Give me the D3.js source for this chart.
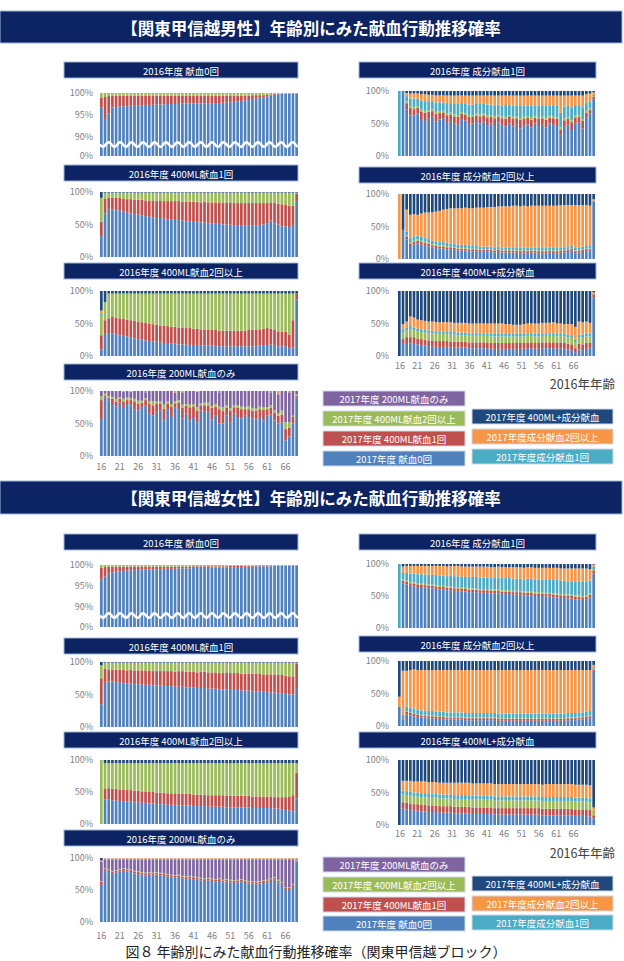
<!DOCTYPE html>
<html>
<head>
<meta charset="utf-8">
<script src="https://cdn.jsdelivr.net/npm/d3@7"></script>
<style>
  body { margin: 0; background: #fff; }
  svg { display: block; font-family: "Noto Sans CJK JP", "Noto Sans", sans-serif; }
</style>
</head>
<body>
<svg id="chart" width="624" height="961"></svg>
<script>
// categories: 2016 age, 16..69
const ages = d3.range(16, 70);
const tickAges = [16, 21, 26, 31, 36, 41, 46, 51, 56, 61, 66];

const seriesKeys = ['blue', 'red', 'green', 'purple', 'teal', 'orange', 'navy'];
const seriesColors = {
  blue: '#4f81bd', red: '#c0504d', green: '#9bbb59', purple: '#8064a2',
  teal: '#4bacc6', orange: '#f79646', navy: '#1f497d'
};
const legendLabels = {
  purple: '2017年度 200ML献血のみ', green: '2017年度 400ML献血2回以上',
  red: '2017年度 400ML献血1回', blue: '2017年度 献血0回',
  navy: '2017年度 400ML+成分献血', orange: '2017年度成分献血2回以上', teal: '2017年度成分献血1回'
};
const panelTitles = ['2016年度 献血0回', '2016年度 成分献血1回', '2016年度 400ML献血1回',
  '2016年度 成分献血2回以上', '2016年度 400ML献血2回以上', '2016年度 400ML+成分献血', '2016年度 200ML献血のみ'];

// ---------- male, % per 2016 age ----------
const mNoneBlue = [96.7,94.1,95.4,96.7,96.8,96.9,97.0,97.0,97.1,97.1, 97.2,97.2,97.3,97.3,97.3,97.4,97.4,97.4,97.5,97.5,
  97.5,97.5,97.6,97.6,97.6,97.6,97.6,97.6,97.6,97.7, 97.7,97.7,97.7,97.8,97.8,97.9,98.0,98.1,98.2,98.3,
  98.4,98.6,98.7,98.9,99.0,99.2,99.4,99.6,99.7,99.8, 99.8,99.8,99.9,99.9];
const mNoneRed = [2.3,5.0,3.9,2.7,2.6,2.5,2.4,2.4,2.3,2.3, 2.2,2.2,2.1,2.1,2.1,2.0,2.0,2.0,1.9,1.9,
  1.9,1.9,1.8,1.8,1.8,1.8,1.8,1.8,1.8,1.7, 1.7,1.7,1.7,1.6,1.6,1.5,1.4,1.3,1.2,1.1,
  1.0,0.9,0.8,0.6,0.5,0.4,0.3,0.2,0.1,0.1, 0.1,0.1,0.05,0.05];
const mNoneGreen = [1.0,0.9,0.7,0.6,0.6,0.6,0.6,0.6,0.6,0.6, 0.6,0.6,0.6,0.6,0.6,0.6,0.6,0.6,0.6,0.6,
  0.6,0.6,0.6,0.6,0.6,0.6,0.6,0.6,0.6,0.6, 0.6,0.6,0.6,0.6,0.6,0.6,0.6,0.6,0.6,0.6,
  0.6,0.5,0.5,0.5,0.5,0.4,0.3,0.2,0.2,0.1, 0.1,0.1,0.05,0.05];

const mComp1Blue = [0,100,72,64,65,68,58,55,60,62, 55,58,60,52,55,50,48,58,55,48, 50,52,50,54,48,50,46,52,48,46,
  50,45,48,42,46,48,44,50,46,48, 44,50,48,46,32,45,48,40,50,52, 42,60,65,88];
const mComp1Red = [0,0,10,12,10,9,12,13,10,9, 12,10,9,12,10,11,12,8,9,12, 10,10,11,9,12,10,12,9,10,12,
  10,12,10,13,11,10,12,9,11,10, 12,9,10,11,8,10,9,12,10,9, 12,8,6,3];
const mComp1Green = [0,0,3,3,3,3,3,3,3,3, 3,3,3,3,3,3,3,3,3,3, 3,3,3,3,3,3,3,3,3,3,
  3,3,3,3,3,3,3,3,3,3, 3,3,3,3,3,3,3,3,3,3, 3,3,3,1];
const mComp1Teal = [100,0,8,12,14,12,14,15,14,13, 15,14,13,16,15,16,17,14,15,16, 16,15,16,15,17,16,17,16,17,18,
  16,17,17,18,17,16,18,16,17,16, 18,16,17,17,22,18,17,20,16,15, 18,12,10,2];
const mComp1Orange = [0,0,5,8,8,8,10,11,10,10, 11,11,11,12,12,13,13,12,12,14, 14,13,13,13,14,14,15,14,15,15,
  14,15,15,16,15,15,16,15,16,16, 16,15,15,16,26,17,16,18,15,15, 18,14,12,4];
const mComp1Navy = [0,0,3,4,4,4,5,5,6,6, 7,7,7,7,7,7,7,7,7,7, 7,7,7,7,7,7,7,7,7,7,
  7,7,7,7,7,7,7,7,7,7, 7,7,7,7,7,7,7,7,7,7, 7,5,4,2];

const m400x1Blue = [32,67,74,73,72,72,70,68,67,66, 65,64,63,62,61,60,60,59,58,58, 57,57,56,55,55,54,54,53,53,52,
  52,51,51,50,50,50,49,49,49,49, 49,49,49,49,50,52,56,52,50,47, 47,46,49,86];
const m400x1Red = [22,23,17,18,19,19,20,21,22,22, 23,24,24,25,26,26,27,27,28,28, 29,29,29,30,30,31,31,31,32,32,
  32,33,33,33,34,34,34,34,34,34, 34,34,34,34,33,31,28,31,32,34, 34,33,30,11];
const m400x1Green = [37,9,8,8,8,8,9,10,10,11, 11,11,12,12,12,13,12,13,13,13, 13,13,14,14,14,14,14,15,14,15,
  15,15,15,16,15,15,16,16,16,16, 16,16,16,16,16,16,15,16,17,18, 18,20,20,2];
const m400x1Navy = [9,1,1,1,1,1,1,1,1,1, 1,1,1,1,1,1,1,1,1,1, 1,1,1,1,1,1,1,1,1,1,
  1,1,1,1,1,1,1,1,1,1, 1,1,1,1,1,1,1,1,1,1, 1,1,1,1];

const mComp2Blue = [0,45,30,20,22,24,22,20,19,18, 17,16,16,15,15,14,13,13,13,12, 12,12,11,11,11,11,10,11,10,10,
  10,10,10,9,10,9,10,10,9,9, 9,10,9,9,10,10,11,13,9,10, 11,12,12,88];
const mComp2Red = [0,0,4,4,4,4,4,4,4,3, 3,3,3,3,3,3,3,3,3,3, 3,3,3,3,3,3,3,3,3,3,
  3,3,3,3,3,3,3,3,3,3, 3,3,3,3,3,3,3,3,3,3, 3,3,3,1];
const mComp2Green = [0,0,2,2,2,2,2,2,2,2, 2,2,2,2,1,1,1,1,1,1, 1,1,1,1,1,1,1,1,1,1,
  1,1,1,1,1,1,1,1,1,1, 1,1,1,1,1,1,1,1,1,1, 1,1,1,0];
const mComp2Teal = [0,0,6,7,7,6,6,6,5,5, 5,5,5,5,5,5,5,5,5,4, 4,4,4,4,4,4,4,4,4,4,
  4,4,4,4,4,4,4,4,4,4, 4,4,4,4,4,4,4,4,4,4, 4,4,4,1];
const mComp2Orange = [100,0,34,35,34,32,36,38,40,44, 46,48,50,52,54,55,56,56,57,58, 58,59,60,60,61,61,62,62,63,63,
  63,64,64,64,64,64,64,64,65,65, 65,64,65,65,65,65,64,62,66,65, 64,63,62,2];
const mComp2Navy = [0,55,24,32,31,32,30,28,28,28, 27,26,24,23,22,22,22,22,21,22, 22,21,21,21,20,20,20,19,19,19,
  19,18,18,19,18,19,18,18,18,18, 18,18,18,18,17,17,17,17,17,17, 17,17,18,8];

const m400x2Blue = [10,34,34,35,33,32,31,30,29,27, 26,25,24,23,22,22,21,20,20,19, 19,18,18,18,17,17,17,16,16,16,
  16,15,15,15,15,15,15,15,15,15, 15,15,15,16,17,17,18,17,15,15, 15,12,13,87];
const m400x2Red = [22,21,24,25,26,26,26,26,26,27, 27,27,27,27,27,26,26,27,26,26, 26,26,26,25,26,25,25,25,25,24,
  24,25,24,24,24,24,24,24,24,24, 25,25,25,25,25,26,24,23,23,22, 22,21,42,9];
const m400x2Green = [30,28,38,36,37,38,39,40,41,42, 43,44,45,46,47,48,49,49,50,51, 51,52,52,53,53,54,54,55,55,56,
  56,56,57,57,57,57,57,57,57,57, 56,56,56,55,54,53,54,56,58,59, 59,63,41,0];
const m400x2Teal = [3,0,0,0,0,0,0,0,0,0, 0,0,0,0,0,0,0,0,0,0, 0,0,0,0,0,0,0,0,0,0,
  0,0,0,0,0,0,0,0,0,0, 0,0,0,0,0,0,0,0,0,0, 0,0,0,0];
const m400x2Orange = [5,0,0,0,0,0,0,0,0,0, 0,0,0,0,0,0,0,0,0,0, 0,0,0,0,0,0,0,0,0,0,
  0,0,0,0,0,0,0,0,0,0, 0,0,0,0,0,0,0,0,0,0, 0,0,0,0];
const m400x2Navy = [30,17,4,4,4,4,4,4,4,4, 4,4,4,4,4,4,4,4,4,4, 4,4,4,4,4,4,4,4,4,4,
  4,4,4,4,4,4,4,4,4,4, 4,4,4,4,4,4,4,4,4,4, 4,4,4,4];

const m400CompBlue = [0,20,20,19,20,18,17,16,15,15, 14,14,14,14,13,13,13,13,13,12, 12,12,12,12,12,11,11,11,11,11,
  11,11,11,11,11,12,12,11,11,12, 12,12,12,11,12,11,10,9,5,10, 9,11,12,90];
const m400CompRed = [0,6,9,10,9,9,9,9,9,9, 9,9,9,9,9,9,9,9,9,9, 9,9,9,9,9,9,9,9,9,9,
  9,9,9,9,9,9,9,9,9,9, 9,9,9,9,9,9,9,9,7,9, 9,9,8,5];
const m400CompGreen = [0,10,10,12,11,11,11,11,11,11, 11,11,11,11,11,11,10,10,10,10, 10,10,10,10,10,10,10,10,10,10,
  10,10,10,10,10,10,10,10,10,10, 10,10,10,10,10,10,10,10,9,10, 11,10,10,1];
const m400CompTeal = [0,5,4,5,4,4,4,4,4,4, 4,4,4,4,4,4,4,4,4,4, 4,4,4,4,4,4,4,4,4,4,
  4,4,4,4,4,4,4,4,4,4, 4,4,4,4,4,4,4,4,4,4, 4,4,4,1];
const m400CompOrange = [0,8,10,15,15,14,14,14,14,14, 14,14,14,14,15,14,15,15,15,15, 15,15,15,15,15,16,16,16,16,15,
  15,14,14,14,15,15,15,16,16,16, 16,16,17,16,15,15,16,17,20,20, 19,19,17,1];
const m400CompNavy = [100,51,47,39,41,44,45,46,47,47, 48,48,48,48,48,49,49,49,49,50, 50,50,50,50,50,50,50,50,50,51,
  51,52,52,52,51,50,50,50,50,49, 49,49,48,50,50,51,51,51,55,47, 48,47,49,2];

const m200Blue = [57,90,85,80,76,82,74,80,78,72, 70,74,78,65,62,68,70,55,72,60, 75,72,58,65,55,60,52,70,68,68,
  56,62,50,50,62,52,65,60,58,62, 60,58,56,60,55,62,64,55,50,52, 24,30,50,90];
const m200Red = [29,3,4,8,8,6,10,6,8,12, 10,8,8,15,16,12,10,18,8,16, 6,10,16,12,20,16,18,8,10,10,
  18,14,22,20,12,18,10,14,14,10, 12,12,14,12,16,10,10,12,12,12, 18,14,10,3];
const m200Green = [6,3,3,3,4,2,4,4,3,4, 5,3,3,4,6,4,4,6,4,4, 3,4,5,3,4,4,5,3,4,4,
  3,4,4,5,4,4,3,4,4,3, 5,4,3,4,4,3,4,3,4,6, 10,8,2,2];
const m200Purple = [8,4,8,9,12,10,11,10,10,12, 15,15,9,16,16,16,16,21,16,20, 13,14,19,20,21,20,24,19,18,18,
  23,20,22,25,22,26,22,22,24,25, 23,26,27,24,25,25,20,30,29,30, 48,46,38,5];
const m200Teal = [0,0,0,0,0,0,1,0,0,0, 0,0,2,0,0,0,0,0,0,0, 0,0,0,0,0,0,0,0,0,0,
  0,0,2,0,0,0,0,0,0,0, 0,0,0,0,0,0,2,0,0,0, 0,0,0,0];
const m200Orange = [0,0,0,0,0,0,0,0,1,0, 0,0,0,0,0,0,0,0,0,0, 3,0,2,0,0,0,1,0,0,0,
  0,0,0,0,0,0,0,0,0,0, 0,0,0,0,0,0,0,0,5,0, 0,2,0,0];

// ---------- female, % per 2016 age ----------
const fNoneBlue = [96.5,97.3,97.9,98.2,98.4,98.5,98.6,98.7,98.7,98.8, 98.8,98.9,98.9,98.9,99.0,99.0,99.0,99.1,99.1,99.1,
  99.1,99.2,99.2,99.2,99.2,99.3,99.3,99.3,99.3,99.3, 99.4,99.4,99.4,99.4,99.4,99.5,99.5,99.5,99.5,99.6,
  99.6,99.6,99.6,99.7,99.7,99.7,99.7,99.8,99.8,99.8, 99.8,99.8,99.9,99.9];
const fNoneRed = [2.8,2.2,1.7,1.4,1.2,1.1,1.0,0.9,0.9,0.8, 0.8,0.7,0.7,0.7,0.6,0.6,0.6,0.5,0.5,0.5,
  0.5,0.4,0.4,0.4,0.4,0.4,0.4,0.4,0.4,0.4, 0.3,0.3,0.3,0.3,0.3,0.3,0.3,0.3,0.3,0.2,
  0.2,0.2,0.2,0.2,0.2,0.2,0.2,0.1,0.1,0.1, 0.1,0.1,0.05,0.05];
const fNoneGreen = [0.7,0.5,0.4,0.4,0.4,0.4,0.4,0.4,0.4,0.4, 0.4,0.4,0.4,0.4,0.4,0.4,0.4,0.4,0.4,0.4,
  0.4,0.4,0.4,0.4,0.4,0.3,0.3,0.3,0.3,0.3, 0.3,0.3,0.3,0.3,0.3,0.2,0.2,0.2,0.2,0.2,
  0.2,0.2,0.2,0.1,0.1,0.1,0.1,0.1,0.1,0.1, 0.1,0.1,0.05,0.05];

const fComp1Blue = [0,70,68,66,65,64,64,63,62,62, 61,60,60,59,59,58,58,57,57,56, 56,56,55,55,55,54,54,54,53,53,
  53,52,52,52,51,51,51,50,50,50, 49,49,48,48,47,47,46,46,45,45, 44,45,48,85];
const fComp1Red = [0,4,4,4,4,4,4,4,4,4, 4,4,4,4,4,4,4,4,4,4, 4,4,4,4,4,4,4,4,4,4,
  4,4,4,4,4,4,4,4,4,4, 4,4,4,4,4,4,4,4,4,4, 4,4,4,4];
const fComp1Green = [0,2,2,2,2,2,2,2,2,2, 2,2,2,2,2,2,2,2,2,2, 2,2,2,2,2,2,2,2,2,2,
  2,2,2,2,2,2,2,2,2,2, 2,2,2,2,2,2,2,2,2,2, 2,2,2,2];
const fComp1Teal = [100,10,12,13,14,14,14,15,15,15, 16,16,16,16,17,17,17,17,17,18, 18,18,18,18,18,18,18,19,19,19,
  19,19,19,19,19,20,20,20,20,20, 20,20,21,21,21,21,21,21,22,22, 22,22,20,5];
const fComp1Orange = [0,10,11,12,12,13,13,13,14,14, 14,15,15,15,15,16,16,16,16,16, 16,16,17,17,17,17,17,17,17,17,
  17,18,18,18,18,18,18,18,18,18, 19,19,19,19,19,19,20,20,20,20, 21,20,18,3];
const fComp1Navy = [0,4,3,3,3,3,3,3,3,3, 3,3,3,4,3,3,3,4,4,4, 4,4,4,4,4,5,5,4,5,5,
  5,5,5,5,6,5,5,6,6,6, 6,6,6,6,7,7,7,7,7,7, 7,7,8,1];

const f400x1Blue = [35,68,70,70,69,68,68,67,67,66, 66,65,65,65,64,64,64,63,63,63, 62,62,62,61,61,61,60,60,60,59,
  59,59,58,58,58,57,57,57,56,56, 56,55,55,55,54,54,53,53,52,52, 51,50,50,60];
const f400x1Red = [40,22,18,18,19,20,20,20,21,21, 21,22,22,22,22,22,23,23,23,23, 23,24,24,24,24,24,24,25,25,25,
  25,25,25,25,26,26,26,26,26,26, 26,27,27,27,27,27,28,28,28,28, 28,28,28,38];
const f400x1Green = [20,9,11,11,11,11,11,12,11,12, 12,12,12,12,13,13,12,13,13,13, 14,13,13,14,14,14,15,14,14,15,
  15,15,16,16,15,16,16,16,17,17, 17,17,17,17,18,18,18,18,19,19, 20,21,21,1];
const f400x1Navy = [5,1,1,1,1,1,1,1,1,1, 1,1,1,1,1,1,1,1,1,1, 1,1,1,1,1,1,1,1,1,1,
  1,1,1,1,1,1,1,1,1,1, 1,1,1,1,1,1,1,1,1,1, 1,1,1,1];

const fComp2Blue = [30,10,18,16,15,14,13,13,12,12, 11,11,11,10,10,10,10,10,9,9, 9,9,9,9,9,9,9,8,8,8,
  8,8,8,8,8,8,8,8,8,8, 8,8,8,8,8,8,9,9,9,10, 10,11,12,85];
const fComp2Red = [0,2,4,4,4,3,3,3,3,3, 3,3,3,3,3,3,3,3,3,3, 3,3,3,3,3,3,3,3,3,3,
  3,3,3,3,3,3,3,3,3,3, 3,3,3,3,3,3,3,3,3,3, 3,3,3,2];
const fComp2Green = [0,0,1,1,1,1,1,1,1,1, 1,1,1,1,1,1,1,1,1,1, 1,1,1,1,1,1,1,1,1,1,
  1,1,1,1,1,1,1,1,1,1, 1,1,1,1,1,1,1,1,1,1, 1,1,1,0];
const fComp2Teal = [0,5,7,7,7,7,7,7,7,7, 7,7,7,7,7,7,7,7,7,7, 7,7,7,7,7,7,7,7,7,7,
  7,7,7,7,7,7,7,7,7,7, 7,7,7,7,7,7,7,7,7,7, 7,7,7,2];
const fComp2Orange = [15,68,55,58,60,61,62,62,63,63, 64,64,64,65,65,65,65,65,66,66, 66,66,66,66,66,66,66,67,67,67,
  67,67,67,67,67,67,67,67,67,67, 67,67,67,67,67,67,66,66,66,65, 65,64,63,5];
const fComp2Navy = [55,15,15,14,13,14,14,14,14,14, 14,14,14,14,14,14,14,14,14,14, 14,14,14,14,14,14,14,14,14,14,
  14,14,14,14,14,14,14,14,14,14, 14,14,14,14,14,14,14,14,14,14, 14,14,14,6];

const f400x2Blue = [0,38,38,37,37,36,36,35,35,34, 34,33,33,32,32,31,31,31,30,30, 30,29,29,29,29,28,28,28,28,27,
  27,27,27,27,26,26,26,26,26,26, 26,25,25,25,25,25,25,24,24,23, 22,21,20,40];
const f400x2Red = [0,17,18,18,18,18,18,18,18,18, 18,18,18,18,18,18,18,18,18,18, 18,18,18,18,18,18,18,18,18,18,
  18,18,18,18,18,18,18,18,18,18, 18,18,18,18,18,18,18,18,18,19, 20,22,25,40];
const f400x2Green = [100,40,39,40,40,41,41,42,42,43, 43,44,44,45,45,46,46,46,47,47, 47,48,48,48,48,49,49,49,49,50,
  50,50,50,50,51,51,51,51,51,51, 51,52,52,52,52,52,52,53,53,53, 53,52,50,15];
const f400x2Navy = [0,5,5,5,5,5,5,5,5,5, 5,5,5,5,5,5,5,5,5,5, 5,5,5,5,5,5,5,5,5,5,
  5,5,5,5,5,5,5,5,5,5, 5,5,5,5,5,5,5,5,5,5, 5,5,5,5];

const f400CompBlue = [0,25,24,23,22,22,21,21,20,20, 20,19,19,19,19,18,18,18,18,18, 17,17,17,17,17,17,16,16,16,16,
  16,16,16,16,16,16,16,16,16,15, 15,15,15,15,15,15,15,15,14,14, 14,14,13,10];
const f400CompRed = [0,10,10,10,10,10,10,10,10,10, 10,10,10,10,10,10,10,10,10,10, 10,10,10,10,10,10,10,10,10,10,
  10,10,10,10,10,10,10,10,10,10, 10,10,10,10,10,10,10,10,10,10, 10,10,10,5];
const f400CompGreen = [0,12,12,12,12,12,12,12,12,12, 12,12,12,12,12,12,12,12,12,12, 12,12,12,12,12,12,12,12,12,12,
  12,12,12,12,12,12,12,12,12,12, 12,12,12,12,12,12,12,12,12,12, 12,12,12,5];
const f400CompTeal = [0,6,6,6,6,6,6,6,6,6, 6,6,6,6,6,6,6,6,6,6, 6,6,6,6,6,6,6,6,6,6,
  6,6,6,6,6,6,6,6,6,6, 6,6,6,6,6,6,6,6,6,6, 6,6,6,2];
const f400CompOrange = [0,15,16,17,17,17,18,18,18,18, 18,18,18,18,18,19,19,19,19,19, 19,19,19,19,19,19,19,19,19,19,
  19,19,19,19,19,19,19,19,19,19, 20,20,20,20,20,20,20,20,20,20, 20,20,20,5];
const f400CompNavy = [100,32,32,32,33,33,33,33,34,34, 34,35,35,35,35,35,35,35,35,35, 36,36,36,36,36,36,37,37,37,37,
  37,37,37,37,37,37,37,37,37,38, 37,37,37,37,37,37,37,37,38,38, 38,38,39,73];

const f200Blue = [58,80,78,76,77,79,80,79,78,76, 75,74,73,74,73,74,73,72,71,70, 69,70,68,67,68,67,66,65,64,65,
  64,63,64,62,63,62,61,62,63,61, 60,60,59,60,61,62,64,66,62,58, 50,50,55,94];
const f200Red = [5,3,3,3,3,3,3,3,3,3, 3,3,3,3,3,3,3,3,3,3, 3,3,3,3,3,3,3,3,3,3,
  3,3,3,3,3,3,3,3,3,3, 3,3,3,3,3,3,3,3,3,3, 3,3,3,1];
const f200Green = [1,1,1,1,1,1,1,1,1,1, 1,1,1,1,1,1,1,1,1,1, 1,1,1,1,1,1,1,1,1,1,
  1,1,1,1,1,1,1,1,1,1, 1,1,1,1,1,1,1,1,1,1, 1,1,1,1];
const f200Purple = [30,14,16,18,17,15,14,15,16,18, 19,20,21,20,21,20,21,22,23,24, 25,24,26,27,26,27,28,29,30,29,
  30,31,30,32,31,32,33,32,31,33, 34,34,35,34,33,32,30,28,32,36, 44,44,39,2];
const f200Teal = [1,1,1,1,1,1,1,1,1,1, 1,1,1,1,1,1,1,1,1,1, 1,1,1,1,1,1,1,1,1,1,
  1,1,1,1,1,1,1,1,1,1, 1,1,1,1,1,1,1,1,1,1, 1,1,1,1];
const f200Orange = [1,1,1,1,1,1,1,1,1,1, 1,1,1,1,1,1,1,1,1,1, 1,1,1,1,1,1,1,1,1,1,
  1,1,1,1,1,1,1,1,1,1, 1,1,1,1,1,1,1,1,1,1, 1,1,1,1];
const f200Navy = [4,0,0,0,0,0,0,0,0,0, 0,0,0,0,0,0,0,0,0,0, 0,0,0,0,0,0,0,0,0,0,
  0,0,0,0,0,0,0,0,0,0, 0,0,0,0,0,0,0,0,0,0, 0,0,0,0];

// ---------- drawing ----------
const svg = d3.select('#chart');
const FONT = '"Noto Sans CJK JP", "Noto Sans", sans-serif';
const BANNER = '#0c2463';
const cols = {
  L: {bx: 64, bw: 234, x0: 100, x1: 298, labelX: 93},
  R: {bx: 359, bw: 237, x0: 398, x1: 595, labelX: 389}
};

function banner(x, y, w, h, text, size, bold) {
  svg.append('rect').attr('x', x).attr('y', y).attr('width', w).attr('height', h)
    .attr('fill', BANNER).attr('stroke', '#9fb4da').attr('stroke-width', 1);
  svg.append('text').attr('x', x + w / 2).attr('y', y + h / 2 + 0.5)
    .attr('text-anchor', 'middle').attr('dominant-baseline', 'central')
    .attr('fill', '#fff').attr('font-size', size).attr('font-weight', bold ? 700 : 400)
    .text(text);
}

function drawPanel(p) {
  const c = cols[p.col];
  const x = d3.scaleBand().domain(ages).range([c.x0, c.x1]).paddingInner(0.27).paddingOuter(0);
  const y = p.y90
    ? d3.scaleLinear().domain([0, 0.9, 1]).range([p.bottom, p.y90, p.top])
    : d3.scaleLinear().domain([0, 1]).range([p.bottom, p.top]);

  const rows = ages.map((age, i) => {
    const r = {age};
    seriesKeys.forEach(k => { r[k] = p.data[k] ? p.data[k][i] : 0; });
    return r;
  });
  const stacked = d3.stack().keys(seriesKeys).offset(d3.stackOffsetExpand)(rows);

  const g = svg.append('g');
  g.selectAll('g.series').data(stacked).join('g')
    .attr('class', 'series').attr('fill', d => seriesColors[d.key])
    .selectAll('rect').data(d => d).join('rect')
    .attr('x', d => x(d.data.age))
    .attr('width', x.bandwidth())
    .attr('y', d => y(d[1]))
    .attr('height', d => Math.max(0, y(d[0]) - y(d[1])));

  // broken axis: white wavy cut across the bars
  if (p.y90) {
    const pts = d3.range(c.x0, c.x1 + 0.5, 0.5)
      .map(v => [v, p.waveY + 2.2 * Math.sin((v - c.x0) / 11.5 * 2 * Math.PI)]);
    g.append('path').attr('d', d3.line()(pts))
      .attr('fill', 'none').attr('stroke', '#fff').attr('stroke-width', 2.6);
  }

  const yAxis = d3.axisLeft(y)
    .tickValues(p.y90 ? [0, 0.9, 0.95, 1] : [0, 0.5, 1])
    .tickFormat(d3.format('.0%')).tickSize(0).tickPadding(c.x0 - c.labelX);
  g.append('g').attr('transform', `translate(${c.x0},0)`).call(yAxis)
    .call(a => a.select('.domain').remove())
    .attr('font-family', FONT).attr('font-size', 9)
    .selectAll('text').attr('fill', '#7f7f7f');

  if (p.tickY) {
    const xt = p.tickRange
      ? d3.scaleLinear().domain([tickAges[0], tickAges[tickAges.length - 1]]).range(p.tickRange)
      : x;
    const xAxis = d3.axisBottom(xt).tickValues(tickAges).tickFormat(d3.format('d'))
      .tickSize(0).tickPadding(p.tickY - p.bottom - 4);
    const ag = g.append('g')
      .attr('transform', `translate(0,${p.bottom})`)
      .call(xAxis)
      .call(a => a.select('.domain').remove())
      .attr('font-family', FONT).attr('font-size', 9);
    ag.selectAll('text').attr('fill', '#7f7f7f');
  }
  return p;
}

function drawSection(s) {
  banner(0, s.titleY, 622, s.titleH, s.title, 16.5, true);
  s.panels.forEach(drawPanel);
  s.panels.forEach((p, i) => banner(cols[p.col].bx, p.bannerY, cols[p.col].bw, 16, panelTitles[i], 9.5, false));

  svg.append('text').attr('x', 615).attr('y', s.ageY).attr('text-anchor', 'end')
    .attr('dominant-baseline', 'central').attr('font-size', 12.5).attr('fill', '#404040')
    .text('2016年年齢');

  const legendLeft = ['purple', 'green', 'red', 'blue'];
  const legendRight = ['navy', 'orange', 'teal'];
  legendLeft.forEach((k, i) => legendBox(323, 142, s.legendLY[i], k));
  legendRight.forEach((k, i) => legendBox(472, 141, s.legendRY[i], k));
}

function legendBox(x, w, y, key) {
  svg.append('rect').attr('x', x).attr('y', y).attr('width', w).attr('height', 15)
    .attr('fill', seriesColors[key]).attr('stroke', '#d0d8e8').attr('stroke-width', 1);
  svg.append('text').attr('x', x + w / 2).attr('y', y + 8)
    .attr('text-anchor', 'middle').attr('dominant-baseline', 'central')
    .attr('fill', '#fff').attr('font-size', 9.5).text(legendLabels[key]);
}

const male = {
  title: '【関東甲信越男性】年齢別にみた献血行動推移確率', titleY: 11, titleH: 32, ageY: 383,
  legendLY: [391, 411, 431, 451], legendRY: [409, 429, 449],
  panels: [
    {col: 'L', bannerY: 62, top: 93, y90: 137, bottom: 156, waveY: 144.5,
      data: {blue: mNoneBlue, red: mNoneRed, green: mNoneGreen}},
    {col: 'R', bannerY: 62, top: 91, bottom: 156,
      data: {blue: mComp1Blue, red: mComp1Red, green: mComp1Green, teal: mComp1Teal, orange: mComp1Orange, navy: mComp1Navy}},
    {col: 'L', bannerY: 165, top: 192, bottom: 257,
      data: {blue: m400x1Blue, red: m400x1Red, green: m400x1Green, navy: m400x1Navy}},
    {col: 'R', bannerY: 167, top: 194, bottom: 259,
      data: {blue: mComp2Blue, red: mComp2Red, green: mComp2Green, teal: mComp2Teal, orange: mComp2Orange, navy: mComp2Navy}},
    {col: 'L', bannerY: 263, top: 291, bottom: 356,
      data: {blue: m400x2Blue, red: m400x2Red, green: m400x2Green, teal: m400x2Teal, orange: m400x2Orange, navy: m400x2Navy}},
    {col: 'R', bannerY: 263, top: 291, bottom: 356, tickY: 367, tickRange: [399.5, 573],
      data: {blue: m400CompBlue, red: m400CompRed, green: m400CompGreen, teal: m400CompTeal, orange: m400CompOrange, navy: m400CompNavy}},
    {col: 'L', bannerY: 364, top: 391, bottom: 456, tickY: 468,
      data: {blue: m200Blue, red: m200Red, green: m200Green, purple: m200Purple, teal: m200Teal, orange: m200Orange}}
  ]
};

const female = {
  title: '【関東甲信越女性】年齢別にみた献血行動推移確率', titleY: 481, titleH: 33, ageY: 852,
  legendLY: [857, 877, 897, 916], legendRY: [876, 896, 915],
  panels: [
    {col: 'L', bannerY: 534, top: 565, y90: 607, bottom: 627, waveY: 615.5,
      data: {blue: fNoneBlue, red: fNoneRed, green: fNoneGreen}},
    {col: 'R', bannerY: 534, top: 564, bottom: 628,
      data: {blue: fComp1Blue, red: fComp1Red, green: fComp1Green, teal: fComp1Teal, orange: fComp1Orange, navy: fComp1Navy}},
    {col: 'L', bannerY: 638, top: 662, bottom: 727,
      data: {blue: f400x1Blue, red: f400x1Red, green: f400x1Green, navy: f400x1Navy}},
    {col: 'R', bannerY: 636, top: 661, bottom: 726,
      data: {blue: fComp2Blue, red: fComp2Red, green: fComp2Green, teal: fComp2Teal, orange: fComp2Orange, navy: fComp2Navy}},
    {col: 'L', bannerY: 732, top: 760, bottom: 824,
      data: {blue: f400x2Blue, red: f400x2Red, green: f400x2Green, navy: f400x2Navy}},
    {col: 'R', bannerY: 732, top: 760, bottom: 825, tickY: 835, tickRange: [399.5, 573],
      data: {blue: f400CompBlue, red: f400CompRed, green: f400CompGreen, teal: f400CompTeal, orange: f400CompOrange, navy: f400CompNavy}},
    {col: 'L', bannerY: 830, top: 858, bottom: 922, tickY: 937,
      data: {blue: f200Blue, red: f200Red, green: f200Green, purple: f200Purple, teal: f200Teal, orange: f200Orange, navy: f200Navy}}
  ]
};

drawSection(male);
drawSection(female);

svg.append('text').attr('x', 316).attr('y', 957).attr('text-anchor', 'middle')
  .attr('font-size', 14).attr('fill', '#222')
  .text('図８ 年齢別にみた献血行動推移確率（関東甲信越ブロック）');
</script>
</body>
</html>
